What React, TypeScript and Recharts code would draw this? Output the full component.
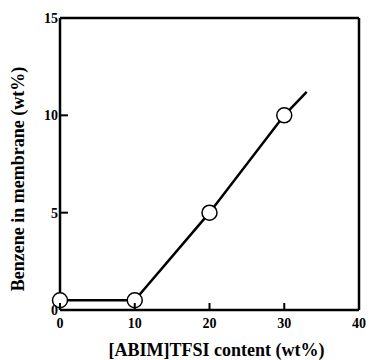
import React from 'react';
import {
  ComposedChart,
  Scatter,
  XAxis,
  YAxis,
  ReferenceLine,
} from 'recharts';

const xTicks = [0, 10, 20, 30, 40];
const yTicks = [0, 5, 10, 15];

// measured points
const ilContent = [0, 10, 20, 30];
const benzene = [0.5, 0.5, 5, 10];

// drawn trend line (runs a little past the last point)
const trendX = [0, 10, 20, 30, 33];
const trendY = [0.5, 0.5, 5, 10, 11.2];

const points = ilContent.map((x, i) => ({ x, y: benzene[i] }));
const trend = trendX.map((x, i) => ({ x, y: trendY[i] }));

const FONT = '"Liberation Serif", "Times New Roman", serif';

function XTick({ x, y, payload }: any) {
  return (
    <g>
      <line x1={x} y1={y} x2={x} y2={y - 7} stroke="#000" strokeWidth={2} />
      <text
        x={x}
        y={y + 18}
        textAnchor="middle"
        fontFamily={FONT}
        fontWeight="bold"
        fontSize={14}
        fill="#000"
      >
        {payload.value}
      </text>
    </g>
  );
}

function YTick({ x, y, payload }: any) {
  return (
    <g>
      <line x1={x} y1={y} x2={x + 8} y2={y} stroke="#000" strokeWidth={2} />
      <text
        x={x - 2}
        y={y}
        dy="0.35em"
        textAnchor="end"
        fontFamily={FONT}
        fontWeight="bold"
        fontSize={14}
        fill="#000"
      >
        {payload.value}
      </text>
    </g>
  );
}

const Marker = (props: any) => (
  <circle cx={props.cx} cy={props.cy} r={7.5} fill="#fff" stroke="#000" strokeWidth={1.5} />
);

export default function App() {
  return (
    <div style={{ position: 'absolute', left: 0, top: 0, background: '#fff' }}>
      <ComposedChart
        width={370}
        height={360}
        margin={{ top: 18, right: 11, left: 0, bottom: 0 }}
      >
        <XAxis
          type="number"
          dataKey="x"
          domain={[0, 40]}
          ticks={xTicks}
          height={50}
          tickSize={0}
          tickMargin={0}
          tickLine={false}
          axisLine={{ stroke: '#000', strokeWidth: 2.5 }}
          tick={<XTick />}
          label={{
            content: ({ viewBox }: any) => (
              <text
                x={viewBox.x + viewBox.width / 2 + 7}
                y={viewBox.y + 46}
                textAnchor="middle"
                fontFamily={FONT}
                fontWeight="bold"
                fontSize={18}
                fill="#000"
              >
                [ABIM]TFSI content (wt%)
              </text>
            ),
          }}
        />
        <YAxis
          type="number"
          dataKey="y"
          domain={[0, 15]}
          ticks={yTicks}
          width={60}
          tickSize={0}
          tickMargin={0}
          tickLine={false}
          axisLine={{ stroke: '#000', strokeWidth: 2.5 }}
          tick={<YTick />}
          label={{
            content: ({ viewBox }: any) => {
              const cx = 18;
              const cy = viewBox.y + viewBox.height / 2 + 15;
              return (
                <text
                  x={cx}
                  y={cy}
                  dy="0.35em"
                  textAnchor="middle"
                  transform={`rotate(-90 ${cx} ${cy})`}
                  fontFamily={FONT}
                  fontWeight="bold"
                  fontSize={18}
                  fill="#000"
                >
                  Benzene in membrane (wt%)
                </text>
              );
            },
          }}
        />
        <ReferenceLine y={15} stroke="#000" strokeWidth={2.5} />
        <ReferenceLine x={40} stroke="#000" strokeWidth={2.5} />
        <Scatter
          data={trend}
          line={{ stroke: '#000', strokeWidth: 2.5 }}
          shape={() => null}
          isAnimationActive={false}
        />
        <Scatter data={points} shape={<Marker />} isAnimationActive={false} />
      </ComposedChart>
    </div>
  );
}
